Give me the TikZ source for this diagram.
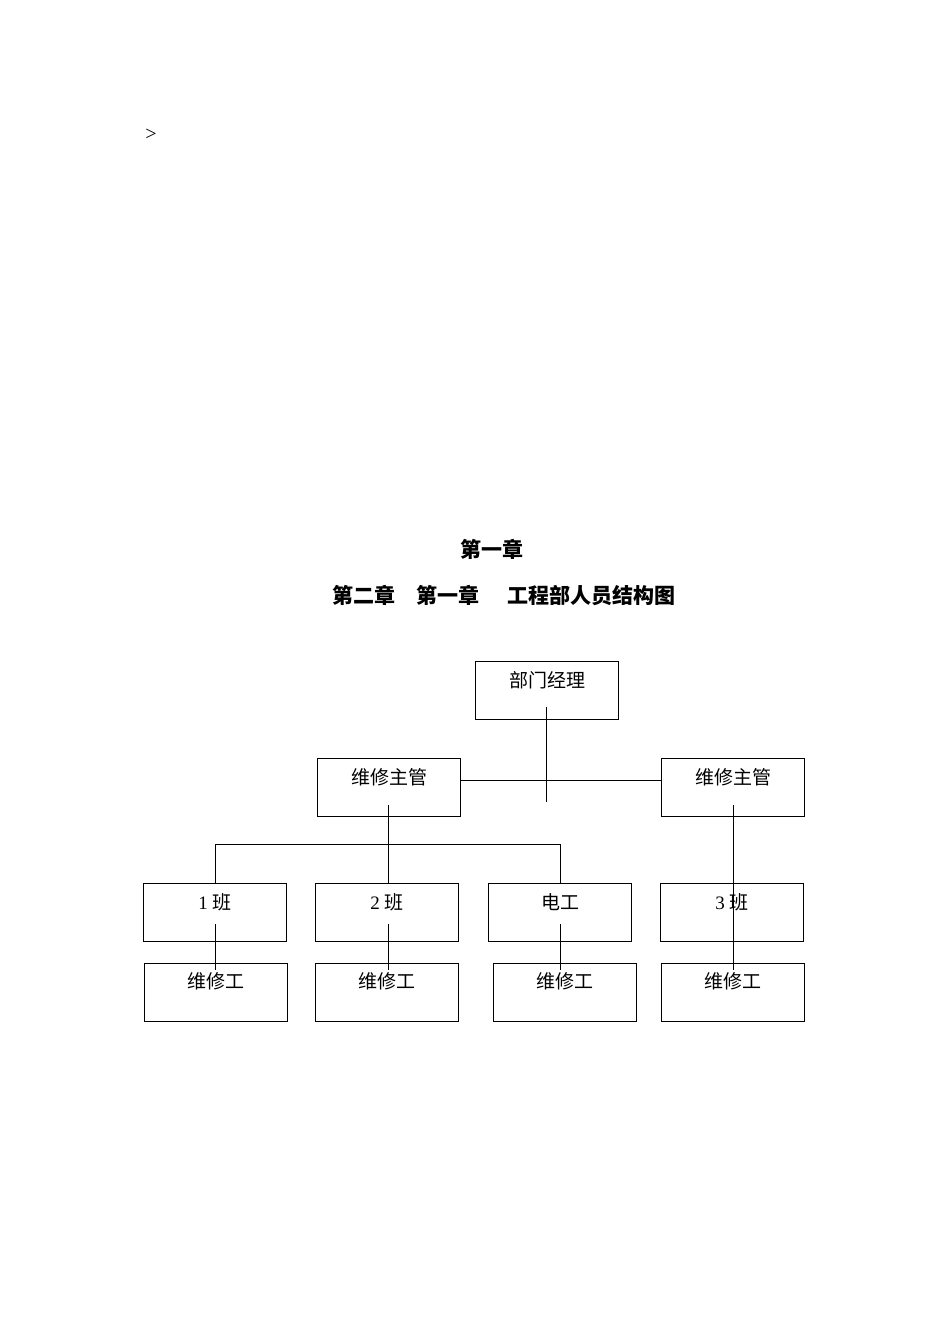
\documentclass[tikz,border=0pt]{standalone}
\usepackage{fontspec}
\setmainfont{Liberation Serif}
\newfontfamily\cjk{Noto Sans CJK SC}
\begin{document}
\begin{tikzpicture}[x=1pt,y=-1pt,
  bx/.style={draw,line width=0.8pt,minimum width=143pt,minimum height=58pt,anchor=north west,inner sep=0pt},
  lbl/.style={font=\cjk\fontsize{19}{19}\selectfont,anchor=center},
  ln/.style={line width=0.8pt}]
\useasboundingbox[fill=white] (0,0) rectangle (950,1344);
\node[font=\fontsize{20}{20}\selectfont] (gt) at (151,135) {>};
\node[font=\cjk\bfseries\fontsize{21}{21}\selectfont] (t1) at (492,549) {第一章};
\node[font=\cjk\bfseries\fontsize{21}{21}\selectfont] (t2) at (504,596) {第二章\hspace{1em}第一章\hspace{1.3em}工程部人员结构图};
\node[bx] (m) at (475,661) {};
\node[bx] (sl) at (317,758) {};
\node[bx] (sr) at (661,758) {};
\node[bx] (b1) at (143,883) {};
\node[bx] (b2) at (315,883) {};
\node[bx] (b3) at (488,883) {};
\node[bx] (b4) at (660,883) {};
\node[bx] (w1) at (144,963) {};
\node[bx] (w2) at (315,963) {};
\node[bx] (w3) at (493,963) {};
\node[bx] (w4) at (661,963) {};
\node[lbl] at (547,680) {部门经理};
\node[lbl] at (389,777) {维修主管};
\node[lbl] at (733,777) {维修主管};
\node[lbl] at (215,902) {\fontspec{Liberation Serif}1 \cjk 班};
\node[lbl] at (387,902) {\fontspec{Liberation Serif}2 \cjk 班};
\node[lbl] at (560,902) {电工};
\node[lbl] at (732,902) {\fontspec{Liberation Serif}3 \cjk 班};
\node[lbl] at (216,981) {维修工};
\node[lbl] at (387,981) {维修工};
\node[lbl] at (565,981) {维修工};
\node[lbl] at (733,981) {维修工};
\coordinate (a1) at (546,707); \coordinate (a2) at (546,802);
\draw[ln] (a1) -- (a2);
\draw[ln] (sl.east |- 0,780) -- (sr.west |- 0,780);
\coordinate (h1) at (215,844); \coordinate (h2) at (560,844);
\draw[ln] (b1.north -| h1) -- (h1) -- (h2) -- (b3.north -| h2);
\draw[ln] (388,805) -- (b2.north -| 388,0);
\draw[ln] (733,805) -- (733,970);
\draw[ln] (215,924) -- (215,970);
\draw[ln] (388,924) -- (388,970);
\draw[ln] (560,924) -- (560,970);
\end{tikzpicture}
\end{document}
